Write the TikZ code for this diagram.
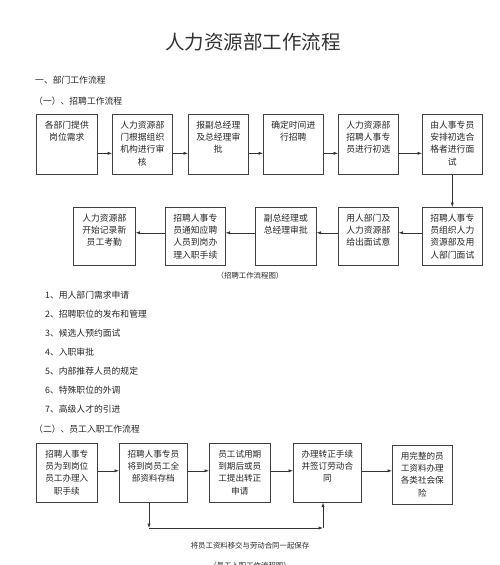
\documentclass[tikz,border=0pt]{standalone}
\usepackage{fontspec}
\setmainfont{Noto Sans CJK SC}
\newfontfamily\cjkfont{Noto Sans CJK SC}
\usetikzlibrary{arrows.meta}
\newcommand{\bxt}[3]{\parbox[t][#2pt][t]{#1pt}{\centering\rule{0pt}{13.8pt}#3}}
\tikzset{
  box/.style={draw=black!75, line width=0.6pt, inner sep=0pt, anchor=north west, text=black!85,
    font=\fontsize{8.8}{12.3}\selectfont},
  boxs/.style={box, font=\fontsize{8.6}{12.3}\selectfont},
  arr/.style={draw=black!80, line width=0.6pt, -{Latex[length=4.5pt,width=3.2pt]}},
  ln/.style={draw=black!80, line width=0.6pt},
  txt/.style={anchor=west, inner sep=0pt, text=black!85, font=\fontsize{8.8}{11}\selectfont},
  captext/.style={inner sep=0pt, text=black!85, font=\fontsize{7.4}{9}\selectfont}
}
\begin{document}
\begin{tikzpicture}[x=1pt,y=-1pt]
\useasboundingbox (0,0) rectangle (500,565);
\fill[white] (0,0) rectangle (500,565);
% title
\node[inner sep=0pt, text=black!80, font=\fontsize{19.5}{22}\selectfont] (title) at (253,42) {人力资源部工作流程};
\node[txt] (h1) at (35,80) {一、部门工作流程};
\node[txt] (h2) at (34,101) {（一）、招聘工作流程};
% row 1
\node[box] (r1) at (36,114) {\bxt{61}{60}{各部门提供\\岗位需求}};
\node[box] (r2) at (112,114) {\bxt{60}{60}{人力资源部\\门根据组织\\机构进行审\\核}};
\node[box] (r3) at (188,114) {\bxt{60}{60}{报副总经理\\及总经理审\\批}};
\node[box] (r4) at (263,114) {\bxt{60}{60}{确定时间进\\行招聘}};
\node[box] (r5) at (338,114) {\bxt{60}{60}{人力资源部\\招聘人事专\\员进行初选}};
\node[box] (r6) at (422,114) {\bxt{60}{60}{由人事专员\\安排初选合\\格者进行面\\试}};
\draw[arr] ([yshift=-9pt]r1.east) -- ([yshift=-9pt]r2.west);
\draw[arr] ([yshift=-9pt]r2.east) -- ([yshift=-9pt]r3.west);
\draw[arr] ([yshift=-9pt]r3.east) -- ([yshift=-9pt]r4.west);
\draw[arr] ([yshift=-9pt]r4.east) -- ([yshift=-9pt]r5.west);
\draw[arr] ([yshift=-9pt]r5.east) -- ([yshift=-9pt]r6.west);
% row 2
\node[box] (q1) at (73,207) {\bxt{62}{58}{人力资源部\\开始记录新\\员工考勤}};
\node[box] (q2) at (165,207) {\bxt{60}{58}{招聘人事专\\员通知应聘\\人员到岗办\\理入职手续}};
\node[box] (q3) at (255,207) {\bxt{61}{58}{副总经理或\\总经理审批}};
\node[box] (q4) at (338,207) {\bxt{60}{58}{用人部门及\\人力资源部\\给出面试意}};
\node[box] (q5) at (422,207) {\bxt{60}{58}{招聘人事专\\员组织人力\\资源部及用\\人部门面试}};
\draw[arr] (r6.south) -- (q5.north);
\draw[arr] ([yshift=3.5pt]q5.west) -- ([yshift=3.5pt]q4.east);
\draw[arr] ([yshift=3.5pt]q4.west) -- ([yshift=3.5pt]q3.east);
\draw[arr] ([yshift=3.5pt]q3.west) -- ([yshift=3.5pt]q2.east);
\draw[arr] ([yshift=3.5pt]q2.west) -- ([yshift=3.5pt]q1.east);
\node[captext] (cap1) at (250,276) {（招聘工作流程图）};
% list
\node[txt] (l1) at (45,295) {1、用人部门需求申请};
\node[txt] (l2) at (45,314) {2、招聘职位的发布和管理};
\node[txt] (l3) at (45,333) {3、候选人预约面试};
\node[txt] (l4) at (45,352) {4、入职审批};
\node[txt] (l5) at (45,371) {5、内部推荐人员的规定};
\node[txt] (l6) at (45,390) {6、特殊职位的外调};
\node[txt] (l7) at (45,409) {7、高级人才的引进};
\node[txt] (h3) at (34,429) {（二）、员工入职工作流程};
% row 3
\node[boxs] (s1) at (36,443) {\bxt{61}{59}{招聘人事专\\员为到岗位\\员工办理入\\职手续}};
\node[boxs] (s2) at (119,443) {\bxt{68}{59}{招聘人事专员\\将到岗员工全\\部资料存档}};
\node[boxs] (s3) at (209,443) {\bxt{61}{59}{员工试用期\\到期后或员\\工提出转正\\申请}};
\node[boxs] (s4) at (293,443) {\bxt{68}{59}{办理转正手续\\并签订劳动合\\同}};
\node[boxs] (s5) at (392,445) {\bxt{60}{59}{用完整的员\\工资料办理\\各类社会保\\险}};
\draw[arr] ([yshift=2pt]s1.east) -- ([yshift=2pt]s2.west);
\draw[arr] ([yshift=2pt]s2.east) -- ([yshift=2pt]s3.west);
\draw[arr] ([yshift=2pt]s3.east) -- ([yshift=2pt]s4.west);
\draw[arr] ([yshift=2pt]s4.east) -- ([yshift=2pt]s5.west |- s4.east);
\coordinate (c1) at (149,528);
\coordinate (c2) at (323,528);
\draw[arr] (c1 |- s2.south) -- (c1);
\draw[arr] (c1) -- (c2);
\draw[arr] (c2) -- (c2 |- s4.south);
\node[captext] (lab) at (250,546) {将员工资料移交与劳动合同一起保存};
\node[captext] (cap2) at (250,565.5) {（员工入职工作流程图）};
\end{tikzpicture}
\end{document}
